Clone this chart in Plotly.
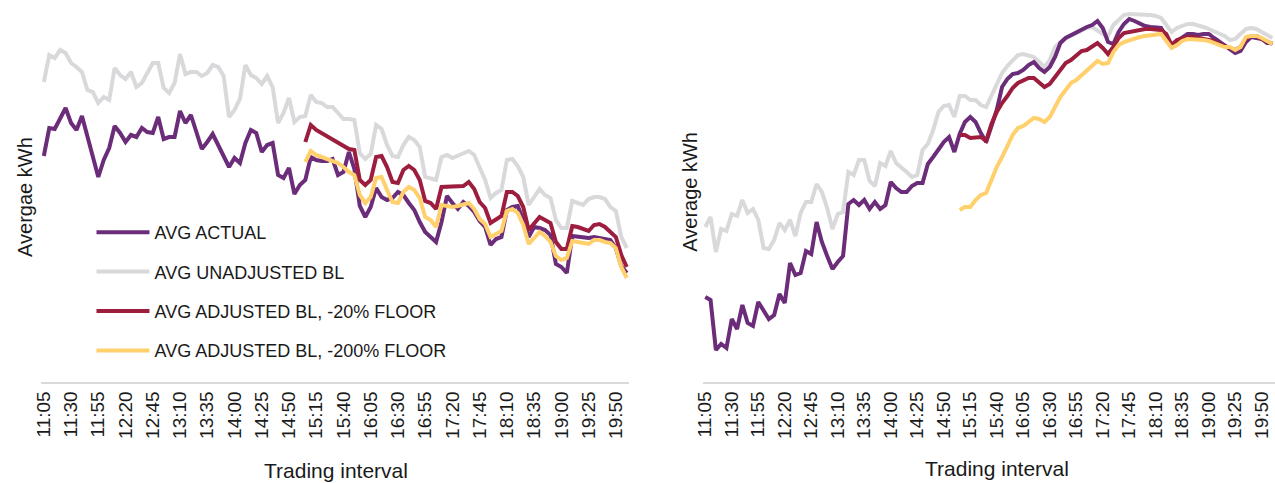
import plotly.graph_objects as go

# ---------------- data ----------------
TIMES = [
    "11:05", "11:10", "11:15", "11:20", "11:25", "11:30", "11:35", "11:40", "11:45", "11:50", "11:55",
    "12:00", "12:05", "12:10", "12:15", "12:20", "12:25", "12:30", "12:35", "12:40", "12:45", "12:50", "12:55",
    "13:00", "13:05", "13:10", "13:15", "13:20", "13:25", "13:30", "13:35", "13:40", "13:45", "13:50", "13:55",
    "14:00", "14:05", "14:10", "14:15", "14:20", "14:25", "14:30", "14:35", "14:40", "14:45", "14:50", "14:55",
    "15:00", "15:05", "15:10", "15:15", "15:20", "15:25", "15:30", "15:35", "15:40", "15:45", "15:50", "15:55",
    "16:00", "16:05", "16:10", "16:15", "16:20", "16:25", "16:30", "16:35", "16:40", "16:45", "16:50", "16:55",
    "17:00", "17:05", "17:10", "17:15", "17:20", "17:25", "17:30", "17:35", "17:40", "17:45", "17:50", "17:55",
    "18:00", "18:05", "18:10", "18:15", "18:20", "18:25", "18:30", "18:35", "18:40", "18:45", "18:50", "18:55",
    "19:00", "19:05", "19:10", "19:15", "19:20", "19:25", "19:30", "19:35", "19:40", "19:45", "19:50", "19:55",
    "20:00",
]
TICK_LABELS = [
    "11:05", "11:30", "11:55", "12:20", "12:45", "13:10", "13:35", "14:00", "14:25", "14:50", "15:15",
    "15:40", "16:05", "16:30", "16:55", "17:20", "17:45", "18:10", "18:35", "19:00", "19:25", "19:50",
]
ADJ_START = "15:05"   # adjusted baselines begin at this interval

# Left panel
L_ACTUAL = [
    2.26, 2.54, 2.53, 2.64, 2.74, 2.59, 2.52, 2.66, 2.45, 2.24,
    2.05, 2.22, 2.34, 2.56, 2.49, 2.40, 2.47, 2.45, 2.54, 2.50,
    2.49, 2.65, 2.43, 2.45, 2.45, 2.71, 2.59, 2.67, 2.49, 2.33,
    2.40, 2.48, 2.37, 2.25, 2.15, 2.24, 2.19, 2.39, 2.52, 2.49,
    2.30, 2.37, 2.39, 2.07, 2.04, 2.14, 1.88, 1.97, 2.02, 2.25,
    2.22, 2.21, 2.21, 2.23, 2.07, 2.10, 2.30, 2.13, 1.76, 1.65,
    1.75, 1.94, 1.85, 1.82, 1.84, 1.90, 1.87, 1.79, 1.72, 1.60,
    1.50, 1.45, 1.40, 1.60, 1.86, 1.79, 1.73, 1.80, 1.76, 1.70,
    1.61, 1.55, 1.37, 1.43, 1.45, 1.72, 1.75, 1.76, 1.62, 1.45,
    1.55, 1.54, 1.52, 1.47, 1.18, 1.15, 1.09, 1.46, 1.45, 1.45,
    1.44, 1.45, 1.44, 1.43, 1.42, 1.34, 1.16, 1.09,
]
L_UNADJ = [
    3.00, 3.27, 3.24, 3.32, 3.29, 3.19, 3.15, 3.10, 2.92, 2.90,
    2.79, 2.85, 2.82, 3.14, 3.07, 3.03, 3.10, 2.95, 2.99, 3.09,
    3.19, 3.19, 2.94, 2.89, 2.99, 3.28, 3.08, 3.10, 3.10, 3.06,
    3.09, 3.17, 3.15, 3.06, 2.65, 2.72, 2.83, 3.17, 3.07, 3.04,
    2.98, 3.06, 2.95, 2.59, 2.69, 2.84, 2.60, 2.65, 2.66, 2.87,
    2.80, 2.79, 2.75, 2.75, 2.69, 2.63, 2.63, 2.62, 2.29, 2.23,
    2.28, 2.57, 2.53, 2.37, 2.26, 2.25, 2.37, 2.45, 2.42, 2.35,
    2.05, 2.03, 2.02, 2.25, 2.27, 2.24, 2.26, 2.29, 2.31, 2.27,
    2.15, 2.02, 1.84, 1.89, 1.92, 2.22, 2.23, 2.16, 2.05, 1.77,
    1.85, 1.93, 1.87, 1.84, 1.62, 1.54, 1.54, 1.81, 1.79, 1.77,
    1.83, 1.85, 1.85, 1.83, 1.75, 1.71, 1.45, 1.34,
]
L_ADJ20 = [
    2.40, 2.57, 2.52, 2.49, 2.45, 2.43, 2.40, 2.37, 2.33, 2.32,
    2.02, 1.97, 2.02, 2.25, 2.26, 2.15, 2.00, 1.99, 2.12, 2.16,
    2.12, 2.02, 1.81, 1.79, 1.73, 1.95, 1.95, 1.95, 1.95, 1.96,
    2.00, 1.93, 1.80, 1.74, 1.59, 1.62, 1.66, 1.90, 1.90, 1.86,
    1.75, 1.52, 1.59, 1.65, 1.62, 1.59, 1.40, 1.33, 1.33, 1.56,
    1.55, 1.53, 1.51, 1.57, 1.58, 1.55, 1.50, 1.45, 1.27, 1.15,
]
L_ADJ200 = [
    2.20, 2.31, 2.27, 2.25, 2.22, 2.21, 2.19, 2.15, 2.10, 2.07,
    1.87, 1.79, 1.85, 2.04, 2.05, 1.92, 1.80, 1.79, 1.90, 1.95,
    1.92, 1.84, 1.65, 1.62, 1.55, 1.77, 1.76, 1.75, 1.76, 1.78,
    1.79, 1.73, 1.63, 1.58, 1.45, 1.48, 1.51, 1.71, 1.73, 1.69,
    1.57, 1.38, 1.44, 1.50, 1.46, 1.40, 1.26, 1.22, 1.24, 1.41,
    1.40, 1.39, 1.38, 1.42, 1.42, 1.40, 1.39, 1.34, 1.15, 1.04,
]

# Right panel
R_ACTUAL = [
    0.85, 0.82, 0.32, 0.38, 0.34, 0.63, 0.53, 0.77, 0.59, 0.56,
    0.80, 0.71, 0.63, 0.67, 0.88, 0.79, 1.19, 1.07, 1.09, 1.31,
    1.28, 1.60, 1.40, 1.26, 1.13, 1.20, 1.26, 1.78, 1.82, 1.77,
    1.82, 1.73, 1.80, 1.73, 1.77, 2.00, 1.94, 1.90, 1.90, 1.96,
    1.99, 1.99, 2.18, 2.25, 2.33, 2.40, 2.45, 2.30, 2.48, 2.60,
    2.65, 2.60, 2.49, 2.40, 2.56, 2.72, 2.95, 3.03, 3.08, 3.09,
    3.12, 3.17, 3.20, 3.14, 3.10, 3.15, 3.25, 3.39, 3.44, 3.47,
    3.49, 3.52, 3.55, 3.57, 3.61, 3.54, 3.40, 3.38, 3.50, 3.58,
    3.63, 3.61, 3.58, 3.56, 3.55, 3.55, 3.54, 3.45, 3.36, 3.41,
    3.44, 3.48, 3.48, 3.47, 3.48, 3.48, 3.44, 3.40, 3.37, 3.33,
    3.29, 3.31, 3.40, 3.45, 3.44, 3.43, 3.39, 3.39,
]
R_UNADJ = [
    1.55, 1.65, 1.30, 1.53, 1.51, 1.68, 1.66, 1.82, 1.69, 1.73,
    1.62, 1.34, 1.33, 1.42, 1.59, 1.52, 1.62, 1.46, 1.69, 1.80,
    1.80, 1.98, 1.90, 1.74, 1.53, 1.68, 1.70, 2.10, 2.07, 2.22,
    2.22, 2.01, 1.96, 2.19, 2.16, 2.31, 2.19, 2.15, 2.10, 2.05,
    2.07, 2.32, 2.38, 2.52, 2.70, 2.76, 2.77, 2.65, 2.86, 2.86,
    2.82, 2.82, 2.77, 2.75, 2.86, 2.99, 3.09, 3.16, 3.22, 3.27,
    3.28, 3.27, 3.25, 3.20, 3.15, 3.22, 3.35, 3.40, 3.44, 3.46,
    3.49, 3.51, 3.54, 3.55, 3.51, 3.48, 3.46, 3.57, 3.62, 3.67,
    3.68, 3.68, 3.67, 3.67, 3.67, 3.66, 3.64, 3.57, 3.50, 3.54,
    3.56, 3.58, 3.58, 3.57, 3.55, 3.53, 3.51, 3.49, 3.46, 3.42,
    3.43, 3.48, 3.53, 3.54, 3.53, 3.50, 3.47, 3.44,
]
R_ADJ20 = [
    2.47, 2.47, 2.44, 2.45, 2.45, 2.41, 2.58, 2.70, 2.79, 2.86,
    2.94, 2.99, 3.01, 3.04, 3.04, 2.99, 2.95, 2.98, 3.05, 3.12,
    3.19, 3.22, 3.26, 3.31, 3.32, 3.35, 3.39, 3.34, 3.28, 3.35,
    3.44, 3.49, 3.50, 3.52, 3.52, 3.53, 3.53, 3.53, 3.52, 3.48,
    3.37, 3.42, 3.44, 3.45, 3.45, 3.44, 3.44, 3.43, 3.41, 3.38,
    3.36, 3.35, 3.32, 3.35, 3.43, 3.46, 3.46, 3.43, 3.40, 3.38,
]
R_ADJ200 = [
    1.72, 1.75, 1.75, 1.82, 1.87, 1.89, 2.02, 2.15, 2.25, 2.37,
    2.47, 2.54, 2.56, 2.60, 2.64, 2.63, 2.60, 2.65, 2.75, 2.85,
    2.92, 2.99, 3.02, 3.07, 3.12, 3.17, 3.21, 3.18, 3.19, 3.30,
    3.37, 3.40, 3.42, 3.44, 3.45, 3.46, 3.47, 3.48, 3.48, 3.41,
    3.34, 3.37, 3.41, 3.43, 3.43, 3.43, 3.42, 3.41, 3.39, 3.37,
    3.35, 3.35, 3.32, 3.35, 3.45, 3.46, 3.46, 3.44, 3.41, 3.38,
]

NAMES = {
    "actual": "AVG ACTUAL",
    "unadj": "AVG UNADJUSTED BL",
    "adj20": "AVG ADJUSTED BL, -20% FLOOR",
    "adj200": "AVG ADJUSTED BL, -200% FLOOR",
}
COLORS = {
    "actual": "#6B2C7A",
    "unadj": "#D9D9DC",
    "adj20": "#9C1D3E",
    "adj200": "#FFD06C",
}
RANK = {"actual": 1, "unadj": 2, "adj20": 3, "adj200": 4}

# ---------------- figure ----------------
W, H = 1275, 483
FONT = "Liberation Sans, Arial, sans-serif"
TXT = "#1a1a1a"
LW = 4

fig = go.Figure()
adj_x = TIMES[TIMES.index(ADJ_START):]

panels = [
    ("x", "y", True, {"unadj": (TIMES, L_UNADJ), "actual": (TIMES, L_ACTUAL),
                       "adj20": (adj_x, L_ADJ20), "adj200": (adj_x, L_ADJ200)}),
    ("x2", "y2", False, {"unadj": (TIMES, R_UNADJ), "actual": (TIMES, R_ACTUAL),
                          "adj20": (adj_x, R_ADJ20), "adj200": (adj_x, R_ADJ200)}),
]
for xa, ya, show, series in panels:
    for key in ["unadj", "actual", "adj20", "adj200"]:
        xs, ys = series[key]
        fig.add_trace(go.Scatter(
            x=xs, y=ys, mode="lines", name=NAMES[key],
            line=dict(color=COLORS[key], width=LW, shape="linear"),
            xaxis=xa, yaxis=ya, showlegend=show, legendgroup=key,
            legendrank=RANK[key], hoverinfo="skip",
        ))

xcommon = dict(
    type="category", categoryorder="array", categoryarray=TIMES,
    range=[-0.5, len(TIMES) - 0.5],
    tickmode="array", tickvals=TICK_LABELS, ticktext=TICK_LABELS,
    tickangle=-90, tickfont=dict(size=19, color=TXT, family=FONT),
    showline=True, linecolor="#D9D9D9", linewidth=1.5,
    ticks="", showgrid=False, zeroline=False,
)
ycommon = dict(range=[0, 3.77], visible=False, showgrid=False, zeroline=False,
               domain=[(H - 382) / H, (H - 5) / H])

fig.update_layout(
    width=W, height=H,
    margin=dict(l=0, r=0, t=0, b=0, pad=0),
    paper_bgcolor="white", plot_bgcolor="white",
    font=dict(family=FONT, color=TXT),
    xaxis=dict(xcommon, domain=[33.3 / W, 625.4 / W], anchor="y"),
    yaxis=dict(ycommon, anchor="x"),
    xaxis2=dict(xcommon, domain=[699.0 / W, 1.0], anchor="y2"),
    yaxis2=dict(ycommon, anchor="x2"),
    showlegend=True,
    legend=dict(
        x=84 / W, y=1 - 214 / H, xanchor="left", yanchor="top",
        bgcolor="rgba(0,0,0,0)", borderwidth=0,
        font=dict(size=18, color=TXT, family=FONT),
        tracegroupgap=13, itemwidth=53, itemclick=False, itemdoubleclick=False,
    ),
    annotations=[
        dict(text="Avergae kWh", x=17 / W, y=1 - 197 / H, xref="paper", yref="paper",
             textangle=-90, showarrow=False, xanchor="center", yanchor="middle",
             font=dict(size=20, color=TXT, family=FONT)),
        dict(text="Average kWh", x=686 / W, y=1 - 192 / H, xref="paper", yref="paper",
             textangle=-90, showarrow=False, xanchor="center", yanchor="middle",
             font=dict(size=20, color=TXT, family=FONT)),
        dict(text="Trading interval", x=330 / W, y=1 - 470 / H, xref="paper", yref="paper",
             showarrow=False, xanchor="center", yanchor="middle",
             font=dict(size=21, color=TXT, family=FONT)),
        dict(text="Trading interval", x=995 / W, y=1 - 468 / H, xref="paper", yref="paper",
             showarrow=False, xanchor="center", yanchor="middle",
             font=dict(size=21, color=TXT, family=FONT)),
    ],
)

fig.write_html("out.html")
